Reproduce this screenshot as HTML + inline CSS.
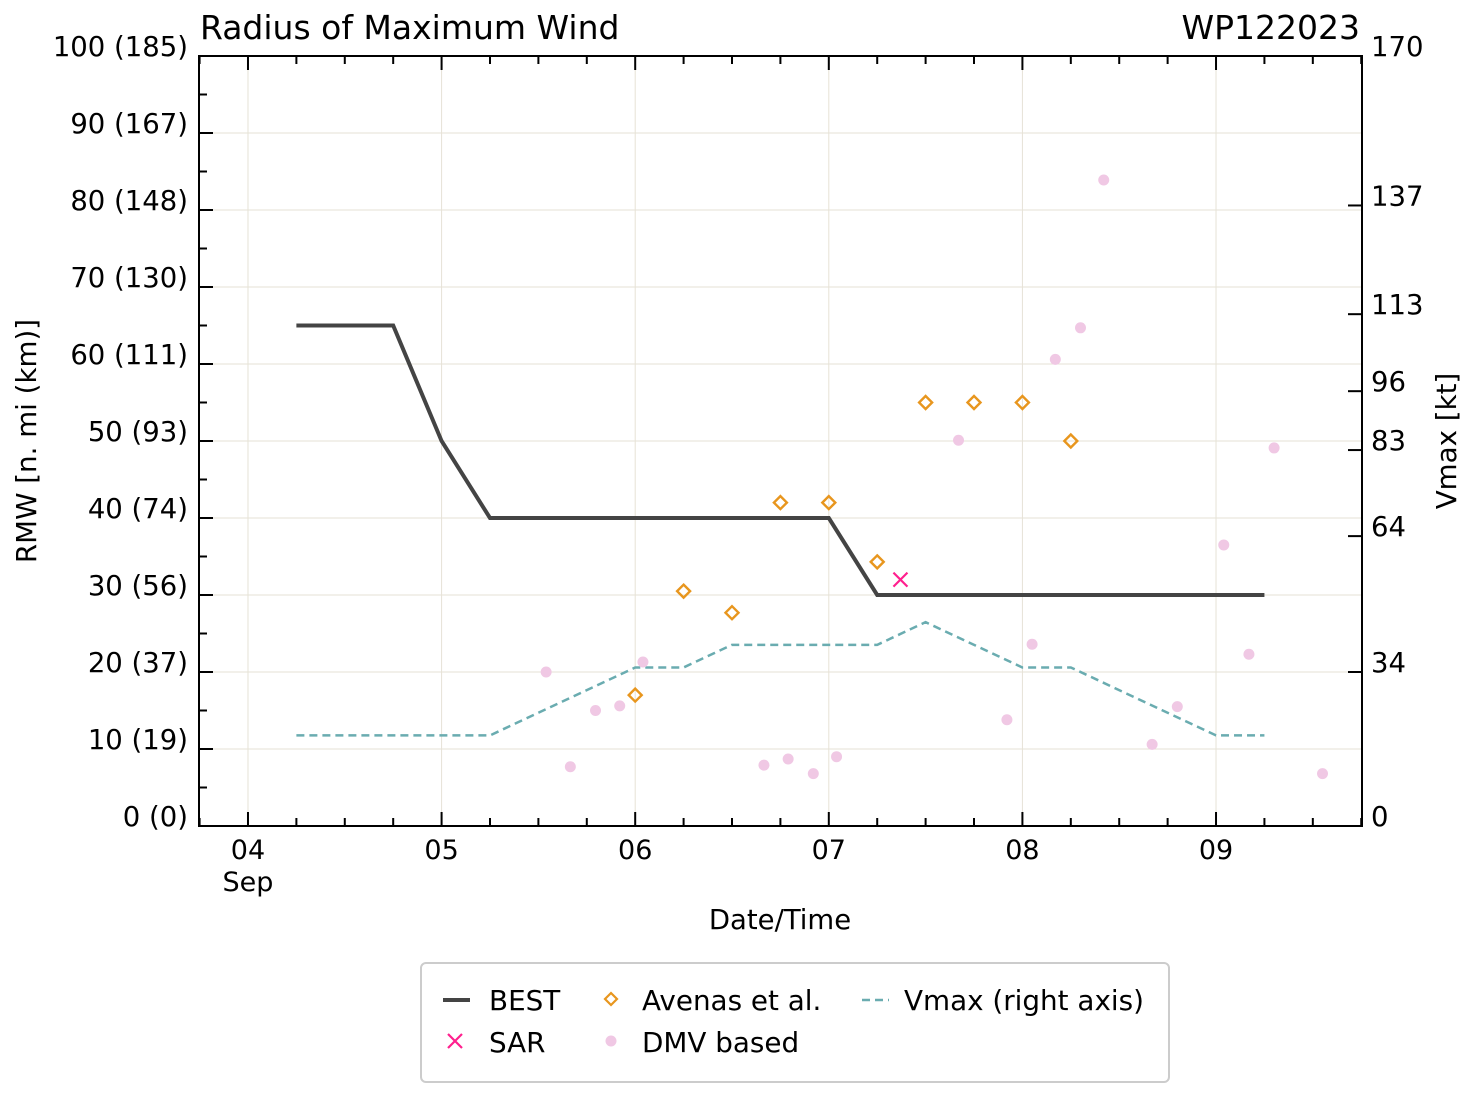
<!DOCTYPE html>
<html><head><meta charset="utf-8"><style>
html,body{margin:0;padding:0;background:#fff;}
svg text{font-family:"DejaVu Sans","Liberation Sans",sans-serif;fill:#000;}
</style></head><body>
<svg id="chart" width="1477" height="1096" xmlns="http://www.w3.org/2000/svg">
<rect width="1477" height="1096" fill="#fff"/>
<g id="grid"></g><g id="series"></g><g id="axes"></g>
<text x="200" y="39" font-size="33">Radius of Maximum Wind</text>
<text x="1360" y="39" font-size="33" text-anchor="end">WP122023</text>
<text x="780" y="929" font-size="27.5" text-anchor="middle">Date/Time</text>
<text transform="translate(36,441) rotate(-90)" font-size="27.7" text-anchor="middle">RMW [n. mi (km)]</text>
<text transform="translate(1456,441) rotate(-90)" font-size="27.7" text-anchor="middle">Vmax [kt]</text>
<g>
<rect x="421" y="963" width="748" height="119" rx="5" fill="#fff" stroke="#ccc" stroke-width="2"/>
<line x1="443" y1="1000" x2="470" y2="1000" stroke="#444" stroke-width="4"/>
<text x="489" y="1010" font-size="27.8">BEST</text>
<path d="M448,1034 l14,14 M462,1034 l-14,14" stroke="#ff1f8e" stroke-width="2.2"/>
<text x="489" y="1052" font-size="27.8">SAR</text>
<path d="M611,993 l6,6 l-6,6 l-6,-6 z" fill="none" stroke="#e8961e" stroke-width="2.2"/>
<text x="642" y="1010" font-size="27.8">Avenas et al.</text>
<circle cx="611" cy="1041" r="5.5" fill="#f0c8e4"/>
<text x="642" y="1052" font-size="27.8">DMV based</text>
<line x1="862" y1="1000" x2="889" y2="1000" stroke="#6aacb0" stroke-width="2.5" stroke-dasharray="8,5"/>
<text x="904" y="1010" font-size="27.8">Vmax (right axis)</text>
</g>
</svg>
<script>
const bestDays=[4.25,4.75,5,5.25,7,7.25,9.25];
const bestRmw=[65,65,50,40,40,30,30];
const vmaxDays=[4.25,5.25,6.0,6.25,6.5,7.25,7.5,8.0,8.25,9.0,9.25];
const vmaxKt=[20,20,35,35,40,40,45,35,35,20,20];
const avenasDays=[6.0,6.25,6.5,6.75,7.0,7.25,7.5,7.75,8.0,8.25];
const avenasRmw=[17,30.5,27.7,42,42,34.3,55,55,55,50];
const sarDays=[7.37];
const sarRmw=[32];
const dmvDays=[5.54,5.665,5.795,5.92,6.04,6.665,6.79,6.92,7.04,7.67,7.92,8.05,8.17,8.3,8.42,8.67,8.8,9.04,9.17,9.3,9.55];
const dmvRmw=[20,7.7,15,15.6,21.3,7.9,8.7,6.8,9,50.1,13.8,23.6,60.6,64.7,83.9,10.6,15.5,36.5,22.3,49.1,6.8];
const xTickLabels=["04","05","06","07","08","09"];
const yTickLabels=["0 (0)","10 (19)","20 (37)","30 (56)","40 (74)","50 (93)","60 (111)","70 (130)","80 (148)","90 (167)","100 (185)"];
const rightTicks=[0,34,64,83,96,113,137,170];

const L=199,R=1362,T=56,B=826;
const X=d=>L+(d-3.747)/(9.754-3.747)*(R-L);
const Y=v=>B-v/100*(B-T);
const YR=v=>B-v/170*(B-T);
const NS="http://www.w3.org/2000/svg";
function mk(parent,tag,attrs){const e=document.createElementNS(NS,tag);for(const k in attrs)e.setAttribute(k,attrs[k]);document.getElementById(parent).appendChild(e);return e;}

xTickLabels.forEach((t,i)=>{const x=X(4+i);
 const g=mk('grid','line',{x1:x,y1:T,x2:x,y2:B,stroke:'#e6e2d6','stroke-width':1});
 
 });
yTickLabels.forEach((t,i)=>{const y=Y(i*10);
 const g=mk('grid','line',{x1:L,y1:y,x2:R,y2:y,stroke:'#e6e2d6','stroke-width':1});
 
 });

const vl=mk('series','polyline',{points:vmaxDays.map((d,i)=>X(d)+','+YR(vmaxKt[i])).join(' '),fill:'none',stroke:'#6aacb0','stroke-width':2.5,'stroke-dasharray':'8,5'});


dmvDays.forEach((d,i)=>{const c=mk('series','circle',{cx:X(d),cy:Y(dmvRmw[i]),r:5.5,fill:'#f0c8e4'});
 
 });
const bl=mk('series','polyline',{points:bestDays.map((d,i)=>X(d)+','+Y(bestRmw[i])).join(' '),fill:'none',stroke:'#444','stroke-width':4,'stroke-linejoin':'miter'});


avenasDays.forEach((d,i)=>{const x=X(d),y=Y(avenasRmw[i]);
 const p=mk('series','path',{d:`M${x},${y-6.5} l6.5,6.5 l-6.5,6.5 l-6.5,-6.5 z`,fill:'none',stroke:'#e8961e','stroke-width':2.4});
 
 });
sarDays.forEach((d,i)=>{const x=X(d),y=Y(sarRmw[i]);
 const p=mk('series','path',{d:`M${x-7},${y-7} l14,14 M${x+7},${y-7} l-14,14`,stroke:'#ff1f8e','stroke-width':2.2});
 
 });

const fr=mk('axes','rect',{x:L,y:T,width:R-L,height:B-T,fill:'none',stroke:'#000','stroke-width':2});


for(let h=-1;h<=5*4+3;h++){const d=4+h/4;const x=X(d);if(x>R)break;const major=h%4===0;
 mk('axes','line',{x1:x,y1:B,x2:x,y2:B-(major?14:8),stroke:'#000','stroke-width':2});
 mk('axes','line',{x1:x,y1:T,x2:x,y2:T+(major?14:8),stroke:'#000','stroke-width':2});}
xTickLabels.forEach((t,i)=>{const tx=mk('axes','text',{x:X(4+i),y:859,'font-size':27,'text-anchor':'middle'});tx.textContent=t;
 
 });
const sep=mk('axes','text',{x:X(4),y:891,'font-size':27,'text-anchor':'middle'});sep.textContent='Sep';


for(let v=0;v<=100;v+=5){const y=Y(v);const major=v%10===0;
 mk('axes','line',{x1:L,y1:y,x2:L+(major?14:8),y2:y,stroke:'#000','stroke-width':2});}
yTickLabels.forEach((t,i)=>{const tx=mk('axes','text',{x:188,y:Y(i*10),'font-size':27.5,'text-anchor':'end'});tx.textContent=t;
 
 });
rightTicks.forEach(v=>{const y=YR(v);
 mk('axes','line',{x1:R,y1:y,x2:R-14,y2:y,stroke:'#000','stroke-width':2});
 const tx=mk('axes','text',{x:1371,y:y,'font-size':27.5});tx.textContent=v;
 
 });
</script>
</body></html>
